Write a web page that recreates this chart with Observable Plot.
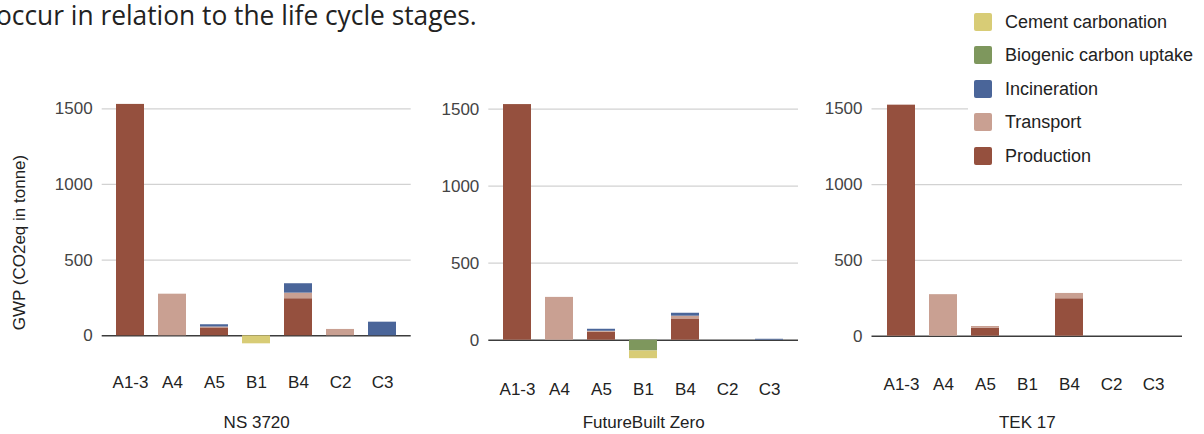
<!DOCTYPE html>
<html>
<head>
<meta charset="utf-8">
<script src="https://cdn.jsdelivr.net/npm/d3@7"></script>
<script src="https://cdn.jsdelivr.net/npm/@observablehq/plot@0.6"></script>
<style>
  html, body { margin: 0; padding: 0; background: #fff; }
  #wrap { position: relative; width: 1204px; height: 434px; overflow: hidden; background: #fff; }
  #wrap svg { position: absolute; top: 0; }
  #lead { position: absolute; left: -4px; top: -1px; font: 28px "Open Sans", "Noto Sans", sans-serif; color: #222; white-space: nowrap; line-height: 30px; transform: scaleX(0.94); transform-origin: 0 0; }
  #legend { position: absolute; left: 968px; top: 0; width: 236px; height: 172px; background: #fff; }
  .item { position: absolute; left: 6px; height: 18px; font: 18px "Liberation Sans", Arial, sans-serif; color: #222; }
  .sw { position: absolute; left: 0; top: 0; width: 18px; height: 18px; border-radius: 2px; }
  .lab { position: absolute; left: 31px; top: -1px; white-space: nowrap; line-height: 20px; }
</style>
</head>
<body>
<div id="wrap">
  <div id="lead">occur in relation to the life cycle stages.</div>
</div>
<script>
// Life cycle stages on the x axis
const stages = ["A1-3", "A4", "A5", "B1", "B4", "C2", "C3"];
// Emission sources, in stacking order (bottom to top)
const sources = ["Production", "Transport", "Incineration", "Biogenic carbon uptake", "Cement carbonation"];
const colors = ["#95503e", "#c9a092", "#4a6599", "#7e975d", "#d8cc76"];
const yTicks = [0, 500, 1000, 1500];
const yTitle = "GWP (CO2eq in tonne)";

// GWP per stage, tonne CO2eq — NS 3720
const ns3720Production   = [1529, 0, 52, 0, 245, 0, 0];
const ns3720Transport    = [0, 275, 6, 0, 37, 42, 0];
const ns3720Incineration = [0, 0, 15, 0, 62, 0, 90];
const ns3720Biogenic     = [0, 0, 0, 0, 0, 0, 0];
const ns3720Cement       = [0, 0, 0, -53, 0, 0, 0];

// FutureBuilt Zero
const fbzProduction   = [1530, 0, 52, 0, 138, 0, 0];
const fbzTransport    = [0, 278, 6, 0, 18, 0, 0];
const fbzIncineration = [0, 0, 13, 0, 19, 0, 6];
const fbzBiogenic     = [0, 0, 0, -70, 0, 0, 0];
const fbzCement       = [0, 0, 0, -50, 0, 0, 0];

// TEK 17
const tekProduction   = [1524, 0, 53, 0, 247, 0, 0];
const tekTransport    = [0, 274, 11, 0, 35, 0, 0];
const tekIncineration = [0, 0, 0, 0, 0, 0, 0];
const tekBiogenic     = [0, 0, 0, 0, 0, 0, 0];
const tekCement       = [0, 0, 0, 0, 0, 0, 0];

const standards = ["NS 3720", "FutureBuilt Zero", "TEK 17"];
const seriesByStandard = [
  [ns3720Production, ns3720Transport, ns3720Incineration, ns3720Biogenic, ns3720Cement],
  [fbzProduction, fbzTransport, fbzIncineration, fbzBiogenic, fbzCement],
  [tekProduction, tekTransport, tekIncineration, tekBiogenic, tekCement]
];

// Panel placement on the page
const layout = [
  {left: 0,   width: 440, marginLeft: 101.7, marginRight: 29.3, zero: 335.3, top1500: 108.3, labelY: 381.7},
  {left: 440, width: 380, marginLeft: 48.3,  marginRight: 22,   zero: 339.7, top1500: 108.7, labelY: 388.3},
  {left: 820, width: 384, marginLeft: 51.5,  marginRight: 22,   zero: 335.7, top1500: 108.3, labelY: 383.3}
];

const font = "'Liberation Sans', Arial, sans-serif";
const wrap = document.getElementById("wrap");

standards.forEach((name, i) => {
  const L = layout[i];
  const rows = [];
  seriesByStandard[i].forEach((vals, s) => {
    vals.forEach((v, k) => { if (v !== 0) rows.push({stage: stages[k], source: sources[s], value: v}); });
  });
  const frameBottom = L.labelY - 6.1;
  const marginBottom = 434 - frameBottom;
  const marginTop = 2 * 242 - frameBottom;
  const chart = Plot.plot({
    width: L.width,
    height: 434,
    marginLeft: L.marginLeft,
    marginRight: L.marginRight,
    marginTop,
    marginBottom,
    style: {background: "transparent", fontFamily: font, overflow: "visible"},
    x: {domain: stages, padding: 0.335, label: null},
    y: {domain: [0, 1500], range: [L.zero, L.top1500], label: null},
    color: {domain: sources, range: colors},
    marks: [
      Plot.ruleY(yTicks.slice(1), {stroke: "#d2d2d2", strokeWidth: 1.3}),
      Plot.ruleY([0], {stroke: "#3c3c3c", strokeWidth: 1.4}),
      Plot.barY(rows, Plot.stackY({x: "stage", y: "value", fill: "source"})),
      Plot.axisY({ticks: yTicks, tickFormat: d => String(d), tickSize: 0, tickPadding: 9.5, fontSize: 17, fill: "#444", label: null}),
      Plot.axisX({tickSize: 0, tickPadding: 0, fontSize: 17, fill: "#222", label: null}),
      Plot.text([name], {frameAnchor: "bottom", dy: 427 - frameBottom, fontSize: 17, fill: "#222"}),
      i === 0 ? Plot.text([yTitle], {frameAnchor: "left", textAnchor: "middle", lineAnchor: "middle", dx: 18.7 - L.marginLeft, rotate: -90, fontSize: 17, fill: "#222"}) : null
    ]
  });
  chart.style.left = L.left + "px";
  wrap.appendChild(chart);
});

// Legend, listed top-down in reverse stacking order
const legend = document.createElement("div");
legend.id = "legend";
const centers = [21.5, 55, 88.5, 122, 155.7];
sources.slice().reverse().forEach((s, j) => {
  const item = document.createElement("div");
  item.className = "item";
  item.style.top = (centers[j] - 9) + "px";
  const sw = document.createElement("div");
  sw.className = "sw";
  sw.style.background = colors[sources.indexOf(s)];
  const lab = document.createElement("div");
  lab.className = "lab";
  lab.textContent = s;
  item.appendChild(sw);
  item.appendChild(lab);
  legend.appendChild(item);
});
wrap.appendChild(legend);
</script>
</body>
</html>
